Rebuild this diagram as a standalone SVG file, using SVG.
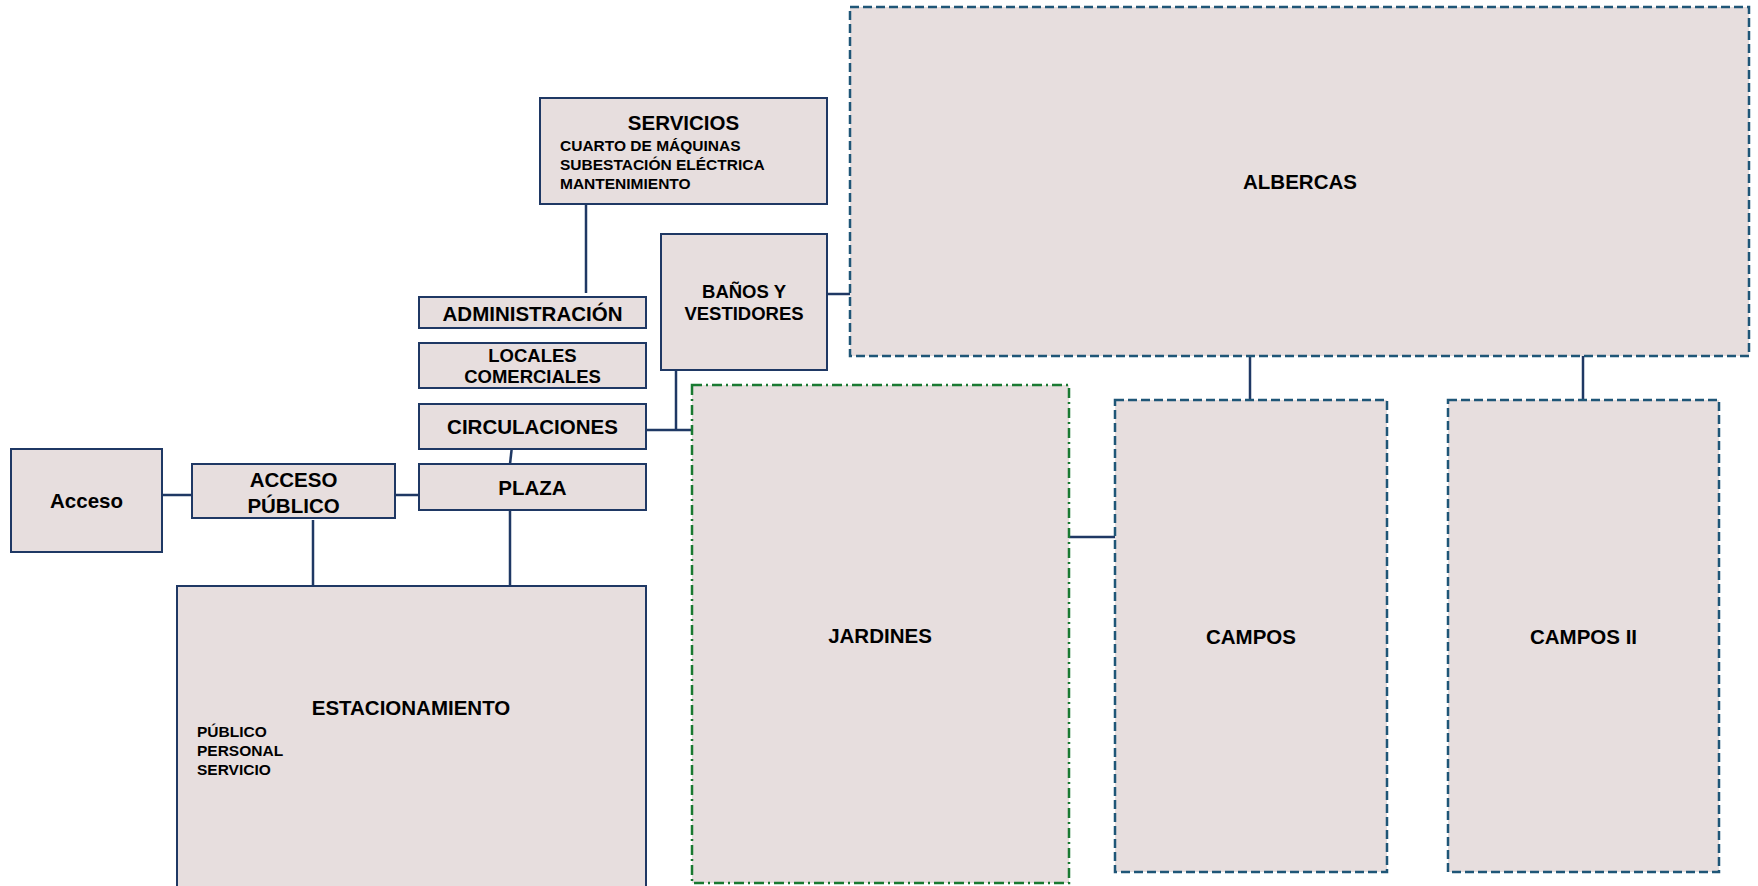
<svg xmlns="http://www.w3.org/2000/svg" width="1758" height="886" viewBox="0 0 1758 886">
<style>
.n{fill:#E7DEDE;stroke:#1F3864;stroke-width:2}
.d{fill:#E7DEDE;stroke:#1F5677;stroke-width:2.5;stroke-dasharray:9 4}
.g{fill:#E7DEDE;stroke:#1A7A32;stroke-width:2.5;stroke-dasharray:10 4 2 4}
.c{stroke:#1F3864;stroke-width:2.5;fill:none}
text{font-family:"Liberation Sans",Arial,sans-serif;font-weight:bold;fill:#000}
.t{font-size:20.5px;text-anchor:middle}
.m{font-size:18.5px;text-anchor:middle}
.s{font-size:15.5px}
</style>
<rect width="1758" height="886" fill="#fff"/>
<g id="connectors">
<line class="c" x1="162" y1="495" x2="192" y2="495"/>
<line class="c" x1="395" y1="495" x2="419" y2="495"/>
<line class="c" x1="313" y1="520" x2="313" y2="586"/>
<line class="c" x1="510" y1="509" x2="510" y2="597"/>
<line class="c" x1="512" y1="446" x2="509" y2="473"/>
<line class="c" x1="586" y1="204" x2="586" y2="293"/>
<line class="c" x1="646" y1="430" x2="692" y2="430"/>
<line class="c" x1="676" y1="370" x2="676" y2="430"/>
<line class="c" x1="827" y1="294" x2="850" y2="294"/>
<line class="c" x1="1250" y1="356" x2="1250" y2="400"/>
<line class="c" x1="1583" y1="356" x2="1583" y2="400"/>
<line class="c" x1="1069" y1="537" x2="1115" y2="537"/>
</g>
<g id="servicios">
<rect class="n" x="540" y="98" width="287" height="106"/>
<text class="t" x="683.5" y="130">SERVICIOS</text>
<text class="s" x="560" y="151">CUARTO DE MÁQUINAS</text>
<text class="s" x="560" y="170">SUBESTACIÓN ELÉCTRICA</text>
<text class="s" x="560" y="189">MANTENIMIENTO</text>
</g>
<g id="administracion">
<rect class="n" x="419" y="297" width="227" height="31"/>
<text class="t" x="532.5" y="321">ADMINISTRACIÓN</text>
</g>
<g id="locales">
<rect class="n" x="419" y="343" width="227" height="45"/>
<text class="m" x="532.5" y="362">LOCALES</text>
<text class="m" x="532.5" y="383">COMERCIALES</text>
</g>
<g id="circulaciones">
<rect class="n" x="419" y="404" width="227" height="45"/>
<text class="t" x="532.5" y="434">CIRCULACIONES</text>
</g>
<g id="plaza">
<rect class="n" x="419" y="464" width="227" height="46"/>
<text class="t" x="532.5" y="495">PLAZA</text>
</g>
<g id="acceso">
<rect class="n" x="11" y="449" width="151" height="103"/>
<text class="t" x="86.5" y="508">Acceso</text>
</g>
<g id="acceso-publico">
<rect class="n" x="192" y="464" width="203" height="54"/>
<text class="t" x="293.5" y="487">ACCESO</text>
<text class="t" x="293.5" y="513">PÚBLICO</text>
</g>
<g id="estacionamiento">
<rect class="n" x="177" y="586" width="469" height="320"/>
<text class="t" x="411" y="715">ESTACIONAMIENTO</text>
<text class="s" x="197" y="737">PÚBLICO</text>
<text class="s" x="197" y="756">PERSONAL</text>
<text class="s" x="197" y="775">SERVICIO</text>
</g>
<g id="banos">
<rect class="n" x="661" y="234" width="166" height="136"/>
<text class="m" x="744" y="298">BAÑOS Y</text>
<text class="m" x="744" y="320">VESTIDORES</text>
</g>
<g id="albercas">
<rect class="d" x="850" y="7" width="899" height="349"/>
<text class="t" x="1300" y="189">ALBERCAS</text>
</g>
<g id="jardines">
<rect class="g" x="692" y="385" width="377" height="498"/>
<text class="t" x="880" y="643">JARDINES</text>
</g>
<g id="campos">
<rect class="d" x="1115" y="400" width="272" height="472"/>
<text class="t" x="1251" y="644">CAMPOS</text>
</g>
<g id="campos-ii">
<rect class="d" x="1448" y="400" width="271" height="472"/>
<text class="t" x="1583.5" y="644">CAMPOS II</text>
</g>
</svg>
